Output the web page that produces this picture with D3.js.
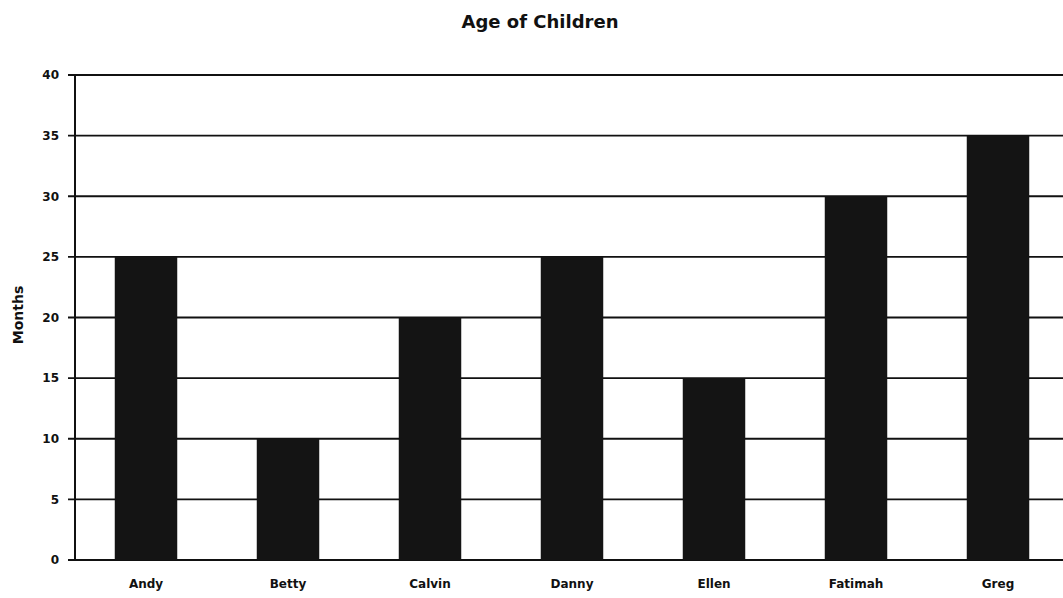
<!DOCTYPE html>
<html>
<head>
<meta charset="utf-8">
<script src="https://cdn.jsdelivr.net/npm/d3@7"></script>
<style>
  body { margin: 0; background: #fff; }
  text { font-family: "DejaVu Sans", Arial, sans-serif; font-weight: bold; fill: #111; }
</style>
</head>
<body>
<div id="container"></div>
<script>
let w = 1063;
let h = 598;

// data
let children = ["Andy", "Betty", "Calvin", "Danny", "Ellen", "Fatimah", "Greg"];
let months = [25, 10, 20, 25, 15, 30, 35];
let yTicks = [0, 5, 10, 15, 20, 25, 30, 35, 40];

let viz = d3.select("#container")
  .append("svg")
    .attr("width", w)
    .attr("height", h)
;

let plotLeft = 75, plotTop = 75, plotBottom = 560;

// x axis
let xScale = d3.scaleBand().domain(children).range([plotLeft, plotLeft + 7 * 142]).paddingInner(0.56).paddingOuter(0.28);

// y axis
let yScale = d3.scaleLinear().domain([0, 40]).range([plotBottom, plotTop]);

// gridlines
viz.append("g").attr("class", "grid")
  .selectAll("line").data(yTicks).enter().append("line")
    .attr("x1", plotLeft - 7)
    .attr("x2", w)
    .attr("y1", d => yScale(d))
    .attr("y2", d => yScale(d))
    .attr("stroke", "#111")
    .attr("stroke-width", 1.8)
;

// y axis line
viz.append("line")
  .attr("x1", plotLeft).attr("x2", plotLeft)
  .attr("y1", plotTop).attr("y2", plotBottom)
  .attr("stroke", "#111").attr("stroke-width", 2);

let yAxis = d3.axisLeft(yScale).tickValues(yTicks).tickSize(0).tickPadding(16);
let yAxisGroup = viz.append("g").attr("class", "yaxis")
  .attr("transform", "translate(" + plotLeft + ",0)")
  .call(yAxis);
yAxisGroup.select(".domain").remove();
yAxisGroup.selectAll("text").style("font-size", "12px").style("font-family", "DejaVu Sans");

// bars
viz.append("g").attr("class", "graphGroup")
  .selectAll("rect").data(months).enter().append("rect")
    .attr("x", (d, i) => xScale(children[i]))
    .attr("y", d => yScale(d))
    .attr("width", xScale.bandwidth())
    .attr("height", d => plotBottom - yScale(d))
    .attr("fill", "#141414")
;

let xAxis = d3.axisBottom(xScale).tickSize(0).tickPadding(19);
let xAxisGroup = viz.append("g").attr("class", "xaxis")
  .attr("transform", "translate(0," + plotBottom + ")")
  .call(xAxis);
xAxisGroup.select(".domain").remove();
xAxisGroup.selectAll("text").style("font-size", "12px").style("font-family", "DejaVu Sans");

// title + axis label
viz.append("text")
  .attr("x", 540).attr("y", 28)
  .attr("text-anchor", "middle")
  .style("font-size", "18px")
  .text("Age of Children");

viz.append("text")
  .attr("transform", "translate(23,315) rotate(-90)")
  .attr("text-anchor", "middle")
  .style("font-size", "14px")
  .text("Months");
</script>
</body>
</html>
